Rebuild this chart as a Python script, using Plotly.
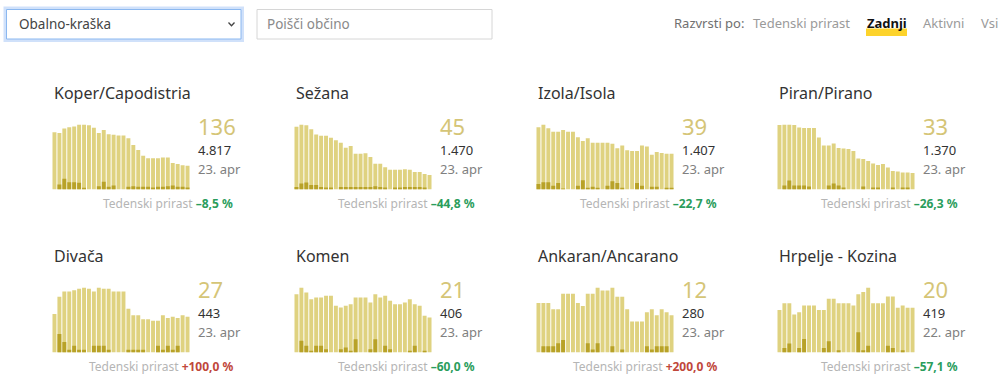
import plotly.graph_objects as go

W, H = 1003, 376

# ---------------- data ----------------
municipalities = ["Koper/Capodistria", "Sežana", "Izola/Isola", "Piran/Pirano",
                  "Divača", "Komen", "Ankaran/Ancarano", "Hrpelje - Kozina"]

koper_active = [327, 323, 348, 356, 360, 371, 371, 367, 352, 323, 339, 316, 312, 308,
                308, 293, 254, 226, 193, 178, 178, 178, 182, 182, 151, 145, 138, 136]
koper_new = [0, 29, 61, 42, 42, 38, 10, 0, 0, 19, 44, 15, 23, 0,
             0, 15, 19, 15, 15, 15, 12, 15, 15, 19, 23, 15, 15, 12]

sezana_active = [195, 202, 200, 187, 171, 167, 167, 161, 153, 145, 130, 135, 111, 111,
                 113, 101, 80, 80, 69, 61, 61, 61, 63, 61, 54, 54, 48, 45]
sezana_new = [8, 19, 22, 14, 14, 8, 6, 6, 0, 8, 8, 8, 8, 8,
              8, 8, 10, 8, 6, 0, 6, 6, 8, 8, 8, 8, 6, 0]

izola_active = [68, 71, 67, 63, 63, 65, 63, 63, 57, 53, 56, 51, 51, 51,
                51, 50, 45, 48, 43, 42, 42, 48, 47, 38, 41, 40, 39, 39]
izola_new = [6, 8, 8, 4, 7, 1, 0, 0, 4, 10, 2, 3, 2, 0,
             4, 9, 7, 2, 0, 0, 7, 4, 0, 3, 3, 0, 2, 2]

piran_active = [129, 130, 130, 129, 124, 123, 123, 123, 104, 88, 88, 92, 83, 82,
                81, 77, 62, 61, 57, 52, 49, 51, 44, 37, 36, 34, 34, 33]
piran_new = [0, 8, 18, 8, 8, 8, 6, 0, 0, 0, 8, 12, 8, 4,
             0, 0, 0, 6, 0, 4, 4, 0, 0, 4, 0, 4, 4, 0]

divaca_active = [29, 42, 46, 46, 47, 48, 49, 48, 46, 49, 48, 48, 46, 46,
                 46, 33, 28, 28, 25, 25, 24, 24, 28, 26, 27, 26, 28, 27]
divaca_new = [0, 14, 8, 2, 5, 2, 2, 0, 5, 5, 5, 2, 0, 0,
              0, 2, 2, 2, 2, 0, 0, 5, 2, 5, 2, 5, 0, 0]

komen_active = [35, 39, 36, 32, 33, 33, 34, 34, 28, 27, 28, 29, 33, 33,
                33, 30, 35, 33, 34, 31, 29, 29, 30, 32, 29, 28, 22, 21]
komen_new = [0, 7, 4, 1, 4, 4, 2, 0, 0, 2, 3, 1, 8, 0,
             0, 2, 8, 0, 4, 2, 0, 0, 0, 1, 4, 0, 1, 0]

ankaran_active = [16, 16, 16, 14, 14, 19, 19, 19, 16, 15, 19, 19, 21, 20,
                  20, 21, 18, 18, 14, 10, 10, 10, 13, 14, 12, 14, 13, 12]
ankaran_new = [0, 2, 2, 2, 3, 4, 0, 0, 0, 0, 3, 1, 3, 0,
               0, 2, 0, 1, 0, 0, 0, 0, 2, 1, 2, 2, 2, 0]

hrpelje_active = [19, 22, 22, 17, 18, 21, 21, 21, 19, 19, 24, 24, 22, 22,
                  22, 21, 26, 27, 29, 22, 22, 22, 25, 25, 20, 21, 20, 20]
hrpelje_new = [0, 2, 4, 0, 2, 6, 0, 0, 0, 2, 5, 0, 1, 0,
               0, 0, 9, 1, 3, 0, 0, 0, 3, 2, 0, 1, 0, 0]

active_series = [koper_active, sezana_active, izola_active, piran_active,
                 divaca_active, komen_active, ankaran_active, hrpelje_active]
new_series = [koper_new, sezana_new, izola_new, piran_new,
              divaca_new, komen_new, ankaran_new, hrpelje_new]

totals = ["4.817", "1.470", "1.407", "1.370", "443", "406", "280", "419"]
last_dates = ["23. apr", "23. apr", "23. apr", "23. apr", "23. apr", "23. apr", "23. apr", "22. apr"]
weekly_change = ["–8,5 %", "–44,8 %", "–22,7 %", "–26,3 %", "+100,0 %", "–60,0 %", "+200,0 %", "–57,1 %"]

sort_options = ["Tedenski prirast", "Zadnji", "Aktivni", "Vsi"]

# ---------------- styling ----------------
FONT = "Noto Sans"
LIGHT = "rgba(204,183,50,0.62)"
DARK = "#b8a228"
BIGNUM = "#d5c577"
GREEN = "#2a9d5c"
RED = "#c0473a"


def px(x):
    return x / W


def py(y):
    return 1 - y / H


def note(x, y, text, size, color, anchor="left", bold=False):
    return dict(x=px(x), y=py(y), xref="paper", yref="paper",
                text=f"<b>{text}</b>" if bold else text,
                xanchor=anchor, yanchor="middle", showarrow=False,
                font=dict(family=FONT, size=size, color=color))


col_left = [52, 294, 536, 777]
row_top = [124.5, 287.5]
row_bot = [189.5, 352.5]
row_offsets = [0, 162.5]
bars_w = 138

fig = go.Figure()
annotations = []
shapes = []

for i, name in enumerate(municipalities):
    r, c = divmod(i, 4)
    ax = "" if i == 0 else str(i + 1)
    days = list(range(len(active_series[i])))
    fig.add_trace(go.Bar(x=days, y=active_series[i], marker=dict(color=LIGHT, line=dict(width=0)),
                         xaxis="x" + ax, yaxis="y" + ax, hoverinfo="skip"))
    fig.add_trace(go.Bar(x=days, y=new_series[i], marker=dict(color=DARK, line=dict(width=0)),
                         xaxis="x" + ax, yaxis="y" + ax, hoverinfo="skip"))
    L = col_left[c]
    fig.layout["xaxis" + ax] = dict(domain=[px(L), px(L + bars_w)], range=[-0.5, len(days) - 0.5],
                                    visible=False, fixedrange=True, anchor="y" + ax)
    fig.layout["yaxis" + ax] = dict(domain=[py(row_bot[r]), py(row_top[r])],
                                    range=[0, max(active_series[i])],
                                    visible=False, fixedrange=True, anchor="x" + ax)
    o = row_offsets[r]
    change_col = RED if weekly_change[i].startswith("+") else GREEN
    annotations += [
        note(L, 93 + o, name, 16, "#333333"),
        note(L + 144, 126 + o, str(active_series[i][-1]), 22, BIGNUM),
        note(L + 144, 150 + o, totals[i], 13, "#333333"),
        note(L + 144, 169 + o, last_dates[i], 13, "#808080"),
        note(L + 183, 204 + o,
             "Tedenski prirast "
             f"<b><span style='color:{change_col}'>{weekly_change[i]}</span></b>",
             12, "#b5b5b5", anchor="right"),
    ]

# ---------- top controls ----------
shapes.append(dict(type="rect", xref="paper", yref="paper", x0=px(5), x1=px(242.5), y0=py(40.5), y1=py(8),
                   line=dict(color="rgba(120,170,240,0.35)", width=3), fillcolor="white", layer="above"))
shapes.append(dict(type="rect", xref="paper", yref="paper", x0=px(6.5), x1=px(241), y0=py(39), y1=py(9.5),
                   line=dict(color="#8bb8f0", width=1), fillcolor="white", layer="above"))
shapes.append(dict(type="path", xref="paper", yref="paper",
                   path=f"M {px(228.5)} {py(22.5)} L {px(231.5)} {py(25.8)} L {px(234.5)} {py(22.5)}",
                   line=dict(color="#444444", width=1.3), layer="above"))
annotations.append(note(17, 24.5, "Obalno-kraška", 13.5, "#444444"))
shapes.append(dict(type="rect", xref="paper", yref="paper", x0=px(257), x1=px(492), y0=py(39), y1=py(9.5),
                   line=dict(color="#d6d6d6", width=1), fillcolor="white", layer="above"))
annotations.append(note(265, 24.5, "Poišči občino", 13.5, "#8a8a8a"))

annotations.append(note(672, 23, "Razvrsti po:", 13, "#707070"))
opt_x = [751, 865, 921, 979]
for k, opt in enumerate(sort_options):
    sel = opt == "Zadnji"
    if sel:
        shapes.append(dict(type="rect", xref="paper", yref="paper", x0=px(866), x1=px(907),
                           y0=py(36), y1=py(28.5), line=dict(width=0), fillcolor="#fdd32b",
                           layer="below"))
    annotations.append(note(opt_x[k], 23, opt, 13, "#111111" if sel else "#9a9a9a", bold=sel))

fig.update_layout(
    width=W, height=H, margin=dict(l=0, r=0, t=0, b=0, autoexpand=False),
    paper_bgcolor="white", plot_bgcolor="rgba(0,0,0,0)",
    barmode="overlay", bargap=0.2, showlegend=False,
    annotations=annotations, shapes=shapes,
    font=dict(family=FONT),
)

fig.write_html("out.html", config={"displayModeBar": False, "staticPlot": True},
               post_script="document.body.style.margin='0';document.body.style.overflow='hidden';")
